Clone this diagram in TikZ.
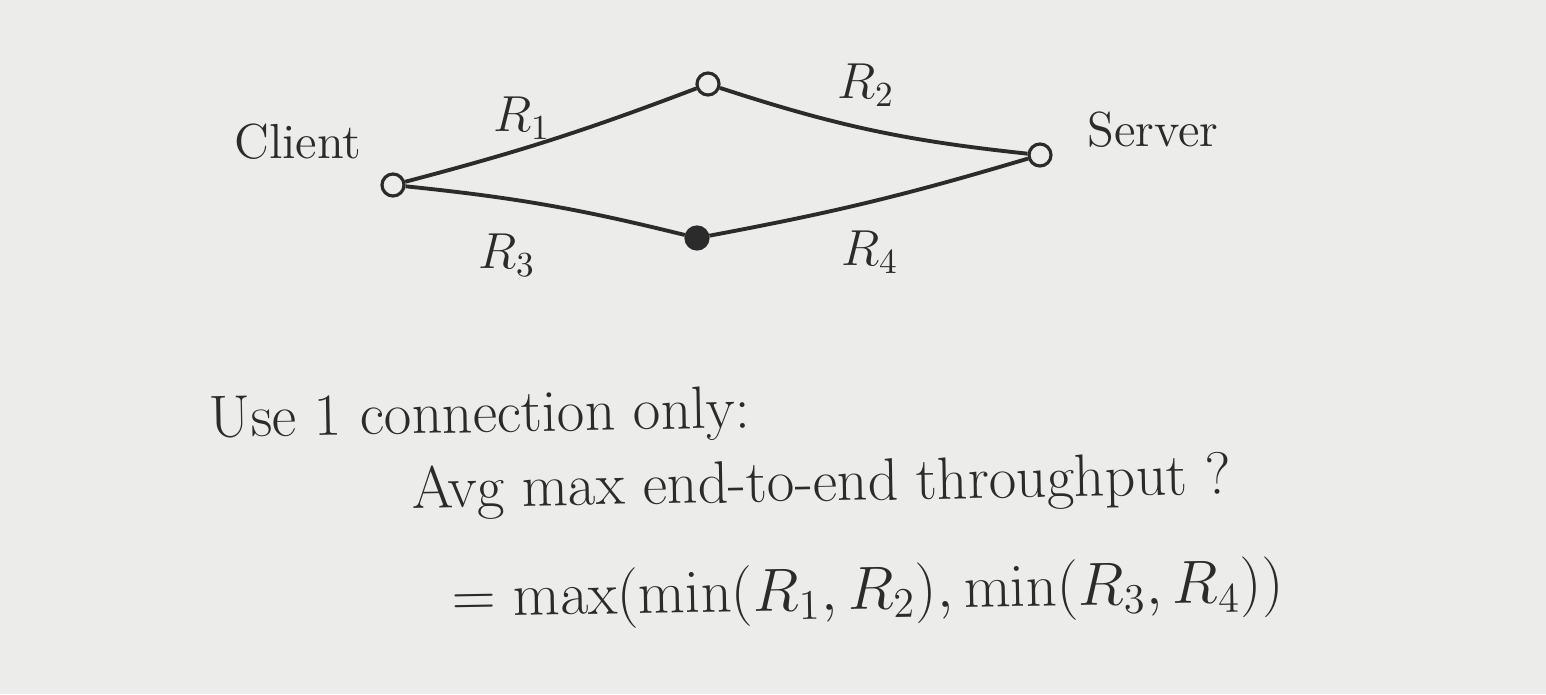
\documentclass[tikz,border=0pt]{standalone}
\usepackage{amsmath,amssymb}
\usepackage{xcolor}
\usepackage{tikz}
\usetikzlibrary{positioning}
\definecolor{boardgray}{HTML}{ECECEA}
\definecolor{inkgray}{HTML}{2B2B2B}
\tikzset{
  hop/.style={circle,draw=inkgray,line width=0.9pt,inner sep=0pt,minimum size=2.2mm,fill=boardgray},
  hopfilled/.style={hop,fill=inkgray},
  link/.style={draw=inkgray,line width=1.1pt},
  hand/.style={text=inkgray,font=\fontsize{14}{16}\selectfont},
  note/.style={text=inkgray,inner sep=0pt,rotate=1,font=\fontsize{17}{20}\selectfont},
}

\begin{document}
\begin{tikzpicture}[x=0.01cm,y=-0.01cm]
  \fill[boardgray] (0,0) rectangle (1546,694);
  % the two paths
  \node[hop] (client) at (393,185) {};
  \node[hop] (top) at (708,84) {};
  \node[hop] (server) at (1040,155) {};
  \node[hopfilled] (bot) at (697,238) {};
  \draw[link] (client) to[bend right=3] (top);
  \draw[link] (top) to[bend right=6] (server);
  \draw[link] (client) to[bend left=4] (bot);
  \draw[link] (bot) to[bend right=3] (server);
  \node[hand] (lclient) at (298,142) {Client};
  \node[hand] (lserver) at (1153,130) {Server};
  \node[hand] (r1) at (522,118) {$R_1$};
  \node[hand] (r2) at (866,85) {$R_2$};
  \node[hand] (r3) at (507,255) {$R_3$};
  \node[hand] (r4) at (870,252) {$R_4$};
  % question
  \node[note] (use) at (480,418) {Use 1 connection only:};
  \node[note] (avg) at (822,486) {Avg max end-to-end throughput ?};
  \node[note] (eq) at (868,594) {$= \max(\min(R_1, R_2), \min(R_3, R_4))$};
\end{tikzpicture}
\end{document}
